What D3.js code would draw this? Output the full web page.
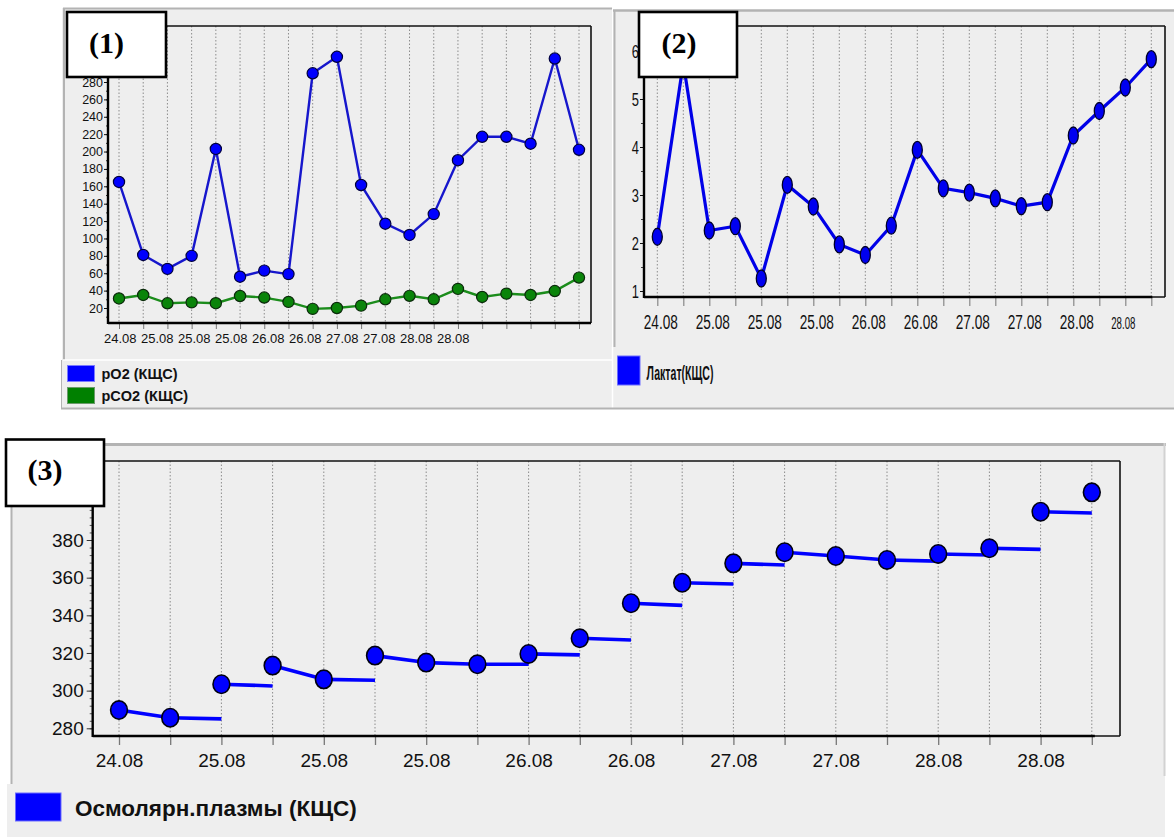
<!DOCTYPE html>
<html>
<head>
<meta charset="utf-8">
<script src="https://cdn.jsdelivr.net/npm/d3@7"></script>
<style>
  html, body { margin: 0; padding: 0; background: #ffffff; }
  svg { display: block; }
</style>
</head>
<body>
<script>
// ---------- data ----------
const sampleIdx = d3.range(20);
const dayLabels = ["24.08", "25.08", "25.08", "25.08", "26.08", "26.08", "27.08", "27.08", "28.08", "28.08"];

// (1) blood gases
const po2  = [165, 81, 65, 80, 203, 56, 63, 59, 290, 309, 161.5, 117, 104, 128, 190, 217, 217, 209, 307, 202];
const pco2 = [31, 35, 25.4, 26.5, 25.5, 33.8, 32, 27, 19, 20, 22.7, 30, 34, 30, 42, 32.7, 36.5, 35, 39.5, 55];
const gasTicks = d3.range(20, 281, 20);
const gasSeries = ["pO2 (КЩС)", "pCO2 (КЩС)"];

// (2) lactate
const lactate = [2.13, 5.75, 2.26, 2.35, 1.26, 3.21, 2.76, 1.97, 1.75, 2.36, 3.94, 3.14, 3.05, 2.93, 2.77, 2.85, 4.24, 4.75, 5.24, 5.83];
const lactateTicks = [1, 2, 3, 4, 5, 6];
const lactateSeries = "Лактат(КЩС)";

// (3) plasma osmolarity: value at each sample and value where its segment ends
const osm     = [289.7, 285.6, 303.4, 313.3, 306, 318.6, 314.9, 314, 319.5, 327.8, 346.4, 357.3, 367.6, 373.5, 371.5, 369.4, 372.6, 375.6, 395, 405.3];
const osmNext = [285.6, 285, 302.5, 306, 305.5, 314.9, 314, 314, 319, 326.9, 345.3, 356.6, 366.7, 371.5, 369.4, 368.8, 372, 375, 394.3];
const osmTicks = [280, 300, 320, 340, 360, 380];
const osmSeries = "Осмолярн.плазмы (КЩС)";

// ---------- styling ----------
const SANS = "'Liberation Sans', Arial, sans-serif";
const SERIF = "'Liberation Serif', 'Times New Roman', serif";
const BG = "#eeeeee";
const FRAME = "#b3b3b3";
const GRID = "#8c8c8c";

const svg = d3.select("body").append("svg").attr("width", 1174).attr("height", 838);

function hline(g, x1, x2, y, color, w) {
  g.append("line").attr("x1", x1).attr("x2", x2).attr("y1", y).attr("y2", y)
    .attr("stroke", color).attr("stroke-width", w);
}
function vline(g, x, y1, y2, color, w) {
  g.append("line").attr("x1", x).attr("x2", x).attr("y1", y1).attr("y2", y2)
    .attr("stroke", color).attr("stroke-width", w);
}
function grid(g, xs, idx, p) {
  g.append("g").selectAll("line").data(idx).join("line")
    .attr("x1", d => xs(d)).attr("x2", d => xs(d))
    .attr("y1", p.top).attr("y2", p.bottom)
    .attr("stroke", GRID).attr("stroke-width", 1).attr("stroke-dasharray", "1.5,2");
}
function plotFrame(g, p, axisEndX) {
  hline(g, p.left, p.right, p.top, "#111", 1.6);
  vline(g, p.right, p.top, p.bottom, "#111", 1.6);
  hline(g, p.left, p.right, p.bottom, "#111", 1.6);
  hline(g, p.left, axisEndX, p.bottom, "#000", 2.6);
  vline(g, p.left, p.top, p.bottom + 1, "#000", 2.4);
}
function tagBox(g, x, y, w, h, label, tx, ty) {
  g.append("rect").attr("x", x).attr("y", y).attr("width", w).attr("height", h)
    .attr("fill", "#ffffff").attr("stroke", "#000").attr("stroke-width", 2.6);
  g.append("text").attr("x", tx).attr("y", ty).attr("text-anchor", "middle")
    .attr("font-family", SERIF).attr("font-weight", "bold").attr("font-size", 30)
    .attr("fill", "#000").text(label);
}
function styleAxis(a, size, color) {
  a.attr("font-family", SANS).attr("font-size", size);
  a.select(".domain").remove();
  a.selectAll("text").attr("fill", color || "#111");
}
function fitText(sel, width) {
  sel.each(function () {
    const len = this.getComputedTextLength();
    const x = +this.getAttribute("x");
    const k = width / len;
    d3.select(this).attr("transform", `translate(${x},0) scale(${k},1) translate(${-x},0)`);
  });
}

// ================= panel (1) =================
{
  const g = svg.append("g");
  g.append("rect").attr("x", 62).attr("y", 8).attr("width", 550).attr("height", 401).attr("fill", BG);
  hline(g, 63, 612, 8.5, FRAME, 2);
  vline(g, 64, 8, 360, FRAME, 2);
  hline(g, 63, 612, 360, "#ffffff", 1.5);
  vline(g, 61.5, 360, 409, FRAME, 1);

  const p = { left: 108, top: 26, right: 591, bottom: 323 };
  const x = d3.scalePoint().domain(sampleIdx).range([119, 579]);
  const y = d3.scaleLinear().domain([20, 280]).range([308, 82]);
  const xl = d3.scalePoint().domain(d3.range(dayLabels.length)).range([119.7, 452.7]);

  grid(g, x, sampleIdx, p);

  // minor + major y ticks
  const minor = g.append("g").attr("transform", `translate(${p.left},0)`)
    .call(d3.axisLeft(y).tickValues(d3.range(10, 341, 10)).tickSize(2).tickFormat(""));
  styleAxis(minor, 10);
  minor.selectAll("line").attr("stroke", "#333");
  const ya = g.append("g").attr("transform", `translate(${p.left},0)`)
    .call(d3.axisLeft(y).tickValues(gasTicks).tickSize(4).tickPadding(1));
  styleAxis(ya, 12.5);
  ya.selectAll("line").attr("stroke", "#111");

  const xt = g.append("g").attr("transform", `translate(0,${p.bottom})`)
    .call(d3.axisBottom(x).tickSize(6).tickFormat(""));
  styleAxis(xt, 10);
  xt.selectAll("line").attr("stroke", "#777");
  const xa = g.append("g").attr("transform", `translate(0,${p.bottom})`)
    .call(d3.axisBottom(xl).tickSize(0).tickFormat(i => dayLabels[i]));
  styleAxis(xa, 13);
  xa.selectAll("text").attr("y", 20).attr("dy", 0);

  plotFrame(g, p, p.right);

  const line = d3.line().x((d, i) => x(i)).y(d => y(d));
  g.append("path").datum(pco2).attr("d", line).attr("fill", "none")
    .attr("stroke", "#1b8c1b").attr("stroke-width", 2.4);
  g.append("g").selectAll("circle").data(pco2).join("circle")
    .attr("cx", (d, i) => x(i)).attr("cy", d => y(d)).attr("r", 5.6)
    .attr("fill", "#0a840a").attr("stroke", "#0b2a0b").attr("stroke-width", 1.2);
  g.append("path").datum(po2).attr("d", line).attr("fill", "none")
    .attr("stroke", "#1616cc").attr("stroke-width", 2.4);
  g.append("g").selectAll("circle").data(po2).join("circle")
    .attr("cx", (d, i) => x(i)).attr("cy", d => y(d)).attr("r", 5.6)
    .attr("fill", "#0000ff").attr("stroke", "#00003c").attr("stroke-width", 1.2);

  // legend
  const colors = ["#0000ff", "#008000"];
  const lg = g.append("g");
  lg.selectAll("rect").data(gasSeries).join("rect")
    .attr("x", 67.5).attr("y", (d, i) => 365.5 + i * 22).attr("width", 27).attr("height", 16)
    .attr("fill", (d, i) => colors[i]).attr("stroke", (d, i) => i ? "#6a9a6a" : "#7a7aff").attr("stroke-width", 1);
  lg.selectAll("text").data(gasSeries).join("text")
    .attr("x", 101.5).attr("y", (d, i) => 379 + i * 22)
    .attr("font-family", SANS).attr("font-weight", "bold").attr("font-size", 14.5)
    .attr("fill", "#111").text(d => d);

  tagBox(g, 67, 12, 99, 65, "(1)", 106.5, 53);
}

// ================= panel (2) =================
{
  const g = svg.append("g");
  g.append("rect").attr("x", 613).attr("y", 10).attr("width", 561).attr("height", 398).attr("fill", BG);
  hline(g, 613, 1174, 10.5, FRAME, 2.4);
  vline(g, 614.5, 10, 347, FRAME, 2);
  vline(g, 612.5, 347, 408, "#ffffff", 1.5);
  hline(g, 61, 1174, 408.5, FRAME, 2);

  const p = { left: 644, top: 26, right: 1165, bottom: 297 };
  const x = d3.scalePoint().domain(sampleIdx).range([657.3, 1151.3]);
  const y = d3.scaleLinear().domain([1, 6]).range([291, 51]);
  const evenIdx = sampleIdx.filter(i => i % 2 === 0);

  grid(g, x, sampleIdx, p);

  const minor = g.append("g").attr("transform", `translate(${p.left},0)`)
    .call(d3.axisLeft(y).tickValues(d3.range(1, 6.6, 0.5)).tickSize(3).tickFormat(""));
  styleAxis(minor, 10);
  minor.selectAll("line").attr("stroke", "#444");
  const ya = g.append("g").attr("transform", `translate(${p.left},0)`)
    .call(d3.axisLeft(y).tickValues(lactateTicks).tickSize(4).tickFormat(d3.format("d")));
  styleAxis(ya, 19);
  ya.selectAll("line").attr("stroke", "#111");
  ya.selectAll("text").attr("x", -5 / 0.68).attr("transform", "scale(0.68,1)");

  const xt = g.append("g").attr("transform", `translate(0,${p.bottom})`)
    .call(d3.axisBottom(x).tickSize(9).tickFormat(""));
  styleAxis(xt, 10);
  xt.selectAll("line").attr("stroke", "#888").attr("stroke-width", 1.2);
  const xa = g.append("g").attr("transform", `translate(3,${p.bottom})`)
    .call(d3.axisBottom(x).tickValues(evenIdx).tickSize(0).tickFormat(i => dayLabels[i / 2]));
  styleAxis(xa, 19.5);
  xa.selectAll("text").attr("y", 32).attr("dy", 0).attr("transform", "scale(0.7,1)");
  xa.selectAll(".tick").filter((d, i, n) => i === n.length - 1)
    .attr("transform", `translate(${x(18) - 5},0)`)
    .select("text").attr("font-size", 17).attr("transform", "scale(0.57,1)");

  plotFrame(g, p, x(19) + 1);

  const line = d3.line().x((d, i) => x(i)).y(d => y(d));
  g.append("path").datum(lactate).attr("d", line).attr("fill", "none")
    .attr("stroke", "#0000e8").attr("stroke-width", 3.2);
  g.append("g").selectAll("ellipse").data(lactate).join("ellipse")
    .attr("cx", (d, i) => x(i)).attr("cy", d => y(d)).attr("rx", 5).attr("ry", 8.5)
    .attr("fill", "#0000f0").attr("stroke", "#000028").attr("stroke-width", 1.3);

  // legend
  g.append("rect").attr("x", 617.5).attr("y", 356).attr("width", 22.5).attr("height", 29)
    .attr("fill", "#0000ff").attr("stroke", "#6c6cff").attr("stroke-width", 1);
  const lt = g.append("text").attr("x", 646.5).attr("y", 380)
    .attr("font-family", SANS).attr("font-weight", "bold").attr("font-size", 21)
    .attr("fill", "#111").text(lactateSeries);
  fitText(lt, 67);

  tagBox(g, 639, 12, 98, 65, "(2)", 679, 53);
}

// ================= panel (3) =================
{
  const g = svg.append("g");
  g.append("rect").attr("x", 11).attr("y", 443).attr("width", 1154).attr("height", 341).attr("fill", BG);
  g.append("rect").attr("x", 7).attr("y", 784).attr("width", 1158).attr("height", 53).attr("fill", BG);
  hline(g, 93, 1166, 444.5, FRAME, 3);
  vline(g, 11.5, 443, 784, FRAME, 2);
  vline(g, 1164.5, 443, 776, "#d2d2d2", 2);

  const p = { left: 92.7, top: 461, right: 1120, bottom: 736 };
  const x = d3.scalePoint().domain(sampleIdx).range([119, 1091.8]);
  const y = d3.scaleLinear().domain([280, 380]).range([728.3, 540]);
  const evenIdx = sampleIdx.filter(i => i % 2 === 0);

  grid(g, x, sampleIdx, p);

  const minor = g.append("g").attr("transform", `translate(${p.left},0)`)
    .call(d3.axisLeft(y).tickValues(d3.range(280, 421, 4)).tickSize(3).tickFormat(""));
  styleAxis(minor, 10);
  minor.selectAll("line").attr("stroke", "#555");
  const ya = g.append("g").attr("transform", `translate(${p.left},0)`)
    .call(d3.axisLeft(y).tickValues(osmTicks).tickSize(6).tickPadding(3));
  styleAxis(ya, 19);
  ya.selectAll("line").attr("stroke", "#333");

  const xt = g.append("g").attr("transform", `translate(0,${p.bottom})`)
    .call(d3.axisBottom(x).tickSize(9).tickFormat(""));
  styleAxis(xt, 10);
  xt.selectAll("line").attr("stroke", "#777").attr("stroke-width", 1.3);
  const xa = g.append("g").attr("transform", `translate(0,${p.bottom})`)
    .call(d3.axisBottom(x).tickValues(evenIdx).tickSize(0).tickFormat(i => dayLabels[i / 2]));
  styleAxis(xa, 19);
  xa.selectAll("text").attr("y", 31).attr("dy", 0);

  plotFrame(g, p, x(19) + 3);

  // one segment per sample, ending at the next sample's position
  g.append("g").selectAll("line").data(osmNext).join("line")
    .attr("x1", (d, i) => x(i)).attr("y1", (d, i) => y(osm[i]))
    .attr("x2", (d, i) => x(i + 1)).attr("y2", d => y(d))
    .attr("stroke", "#0000ff").attr("stroke-width", 3.6);
  g.append("g").selectAll("ellipse").data(osm).join("ellipse")
    .attr("cx", (d, i) => x(i)).attr("cy", d => y(d)).attr("rx", 8.4).attr("ry", 9.2)
    .attr("fill", "#0000ff").attr("stroke", "#000010").attr("stroke-width", 1.6);

  // legend
  g.append("rect").attr("x", 15.5).attr("y", 793).attr("width", 45.5).attr("height", 28)
    .attr("fill", "#0000ff").attr("stroke", "#6c6cff").attr("stroke-width", 1);
  g.append("text").attr("x", 75).attr("y", 815.5)
    .attr("font-family", SANS).attr("font-weight", "bold").attr("font-size", 22.5)
    .attr("fill", "#111").text(osmSeries);

  tagBox(g, 6, 439.5, 98, 66.5, "(3)", 45, 480);
}
</script>
</body>
</html>
